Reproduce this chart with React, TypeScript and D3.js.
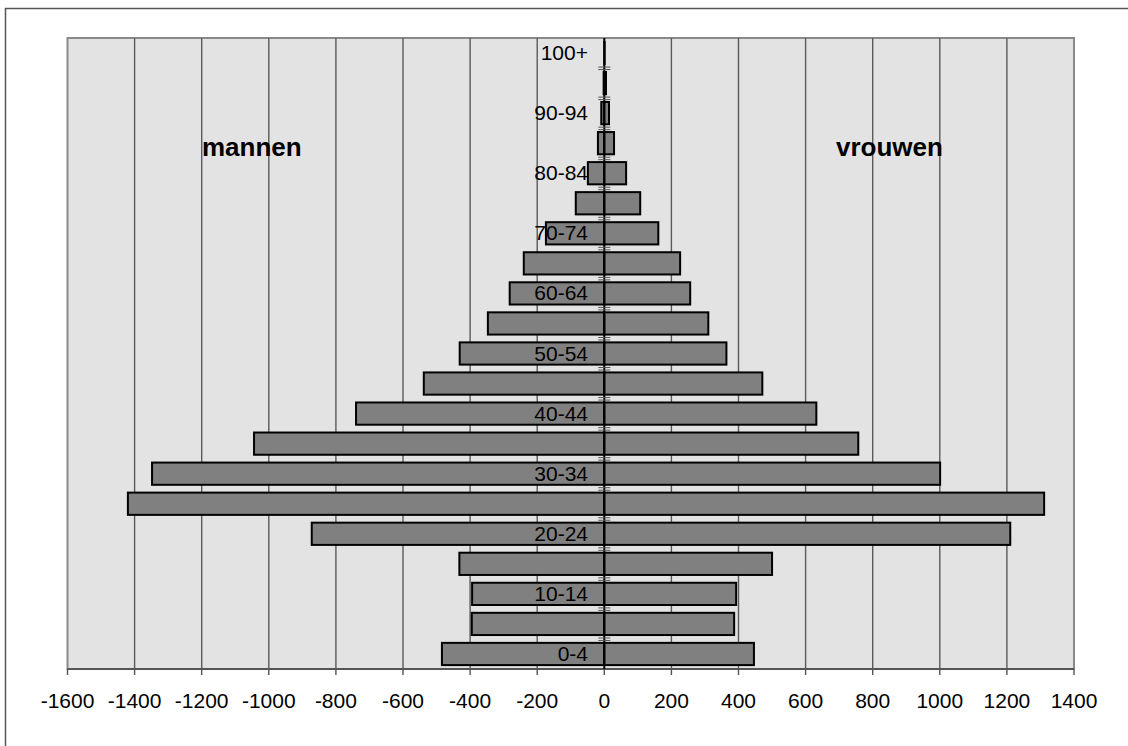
import React from "react";
import * as d3 from "d3";

const categories = ['0-4','5-9','10-14','15-19','20-24','25-29','30-34','35-39','40-44','45-49','50-54','55-59','60-64','65-69','70-74','75-79','80-84','85-89','90-94','95-99','100+'];
const mannen = [-484,-395,-394,-432,-872,-1420,-1348,-1044,-740,-538,-431,-347,-282,-240,-174,-85,-49,-19,-9,-2,0];
const vrouwen = [446,387,393,500,1210,1311,1001,757,632,471,364,310,256,226,161,107,65,29,14,5,1];
const xTicks = [-1600,-1400,-1200,-1000,-800,-600,-400,-200,0,200,400,600,800,1000,1200,1400];
const shownLabels = ['0-4','10-14','20-24','30-34','40-44','50-54','60-64','70-74','80-84','90-94','100+'];

const W = 1128, H = 746;
const left = 67.5, right = 1074, top = 38, bottom = 669;

export default function App() {
  const x = d3.scaleLinear().domain([-1600, 1400]).range([left, right]);
  const y = d3.scaleBand<string>().domain([...categories].reverse()).range([top, bottom]).paddingInner(0.26).paddingOuter(0.13);
  const step = y.step();
  const x0 = x(0);
  const font = "'Liberation Sans', Arial, sans-serif";
  const boundaries = d3.range(1, categories.length).map(i => top + i * step);

  return (
    <svg width={W} height={H} style={{ position: "absolute", left: 0, top: 0, background: "#fff" }} fontFamily={font}>
      <rect x={5.5} y={8.5} width={1140} height={760} fill="#fff" stroke="#555" strokeWidth={1.5} />
      <rect x={left} y={top} width={right - left} height={bottom - top} fill="#e3e3e3" stroke="#8a8a8a" strokeWidth={2} />
      {xTicks.slice(1, -1).filter(t => t !== 0).map(t => (
        <line key={"g" + t} x1={x(t)} x2={x(t)} y1={top} y2={bottom} stroke="#5a5a5a" strokeWidth={1.4} />
      ))}
      <line x1={left} x2={right} y1={bottom} y2={bottom} stroke="#555" strokeWidth={2} />
      {xTicks.map(t => (
        <g key={"t" + t}>
          <line x1={x(t)} x2={x(t)} y1={bottom} y2={bottom + 6} stroke="#555" strokeWidth={1.4} />
          <text x={x(t)} y={708} textAnchor="middle" fontSize={21} fill="#000">{t}</text>
        </g>
      ))}
      {categories.map((c, i) => (
        <g key={"b" + c}>
          {mannen[i] !== 0 && (
            <rect x={x(mannen[i])} y={y(c)!} width={x0 - x(mannen[i])} height={y.bandwidth()} fill="#808080" stroke="#000" strokeWidth={2} />
          )}
          {vrouwen[i] !== 0 && (
            <rect x={x0} y={y(c)!} width={x(vrouwen[i]) - x0} height={y.bandwidth()} fill="#808080" stroke="#000" strokeWidth={2} />
          )}
        </g>
      ))}
      <line x1={x0} x2={x0} y1={top} y2={bottom} stroke="#000" strokeWidth={2} />
      {boundaries.map((b, i) => (
        <g key={"k" + i}>
          <line x1={x0 - 6} x2={x0 + 6} y1={b - 1} y2={b - 1} stroke="#555" strokeWidth={1} />
          <line x1={x0 - 6} x2={x0 + 6} y1={b + 1.5} y2={b + 1.5} stroke="#555" strokeWidth={1} />
        </g>
      ))}
      {categories.filter(c => shownLabels.includes(c)).map(c => (
        <text key={"l" + c} x={588} y={y(c)! + y.bandwidth() / 2 + 7} textAnchor="end" fontSize={21} fill="#000">{c}</text>
      ))}
      <text x={202} y={156} fontSize={26} fontWeight="bold" fill="#000">mannen</text>
      <text x={836} y={156} fontSize={26} fontWeight="bold" fill="#000">vrouwen</text>
    </svg>
  );
}
